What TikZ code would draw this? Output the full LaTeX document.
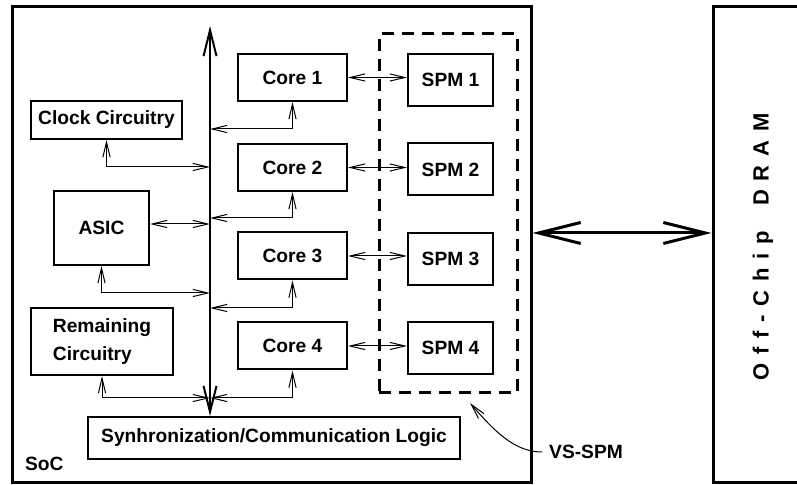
\documentclass[tikz,border=0pt]{standalone}
\usepackage{fontspec}
\setmainfont{Liberation Sans}
\usetikzlibrary{arrows.meta}

\tikzset{
  blk/.style={draw,line width=1pt,inner sep=0pt},
  core/.style={blk,minimum width=54.5pt,minimum height=23.5pt},
  spm/.style={blk,minimum width=42.5pt,minimum height=26pt},
  chip/.style={draw,line width=1.5pt,minimum height=238pt},
  link/.style={line width=0.5pt,{Straight Barb[length=7.5pt,width=3.6pt]}-{Straight Barb[length=7.5pt,width=3.6pt]}},
  bus/.style={line width=1pt,{Straight Barb[length=13pt,width=6.5pt]}-{Straight Barb[length=13pt,width=6.5pt]}},
  memlink/.style={line width=1.5pt,{Straight Barb[length=21pt,width=10.5pt]}-{Straight Barb[length=21pt,width=10.5pt]}}
}

\begin{document}
\begin{tikzpicture}[x=0.5pt,y=-0.5pt,font=\fontsize{9.6}{14}\selectfont\bfseries]
\useasboundingbox (0,0) rectangle (797,485);

\node[chip,minimum width=259.5pt] (soc) at (271.5,245) {};
\node[chip,minimum width=80pt] (dram) at (793,245) {};
\node[anchor=west] (soclbl) at (18,464) {SoC};
\node[rotate=90,font=\fontsize{11}{13}\selectfont\bfseries] (dramlbl) at (763,247) {\addfontfeature{LetterSpace=40}Off-Chip\hspace{5pt} DRAM};

\node[draw,line width=1.5pt,dash pattern=on 6pt off 4pt,minimum width=69pt,minimum height=179.5pt] (vsbox) at (448,213.5) {};

\foreach \i/\y in {1/77.5,2/167.5,3/256,4/346}
  \node[core] (core\i) at (292.5,\y) {Core \i};
\foreach \i/\y in {1/80,2/169.5,3/259,4/348}
  \node[spm] (spm\i) at (450.5,\y) {SPM \i};

\node[blk,minimum width=75.5pt,minimum height=19pt] (clock) at (106.5,120) {Clock Circuitry};
\node[blk,minimum width=47.5pt,minimum height=37pt] (asic) at (101.5,228) {ASIC};
\node[blk,minimum width=71pt,minimum height=33.5pt,align=left] (rest) at (102,341.5) {Remaining\\Circuitry};
\node[blk,minimum width=186pt,minimum height=21pt] (sync) at (274,438) {Synhronization/Communication Logic};

\coordinate (bustop) at (210,26);
\foreach \n/\y in {c1/129,clk/167,c2/218,asic/224,asicb/293,c3/308,low/398}
  \coordinate (bus-\n) at (210,\y);
\draw[bus] (bustop) -- (bustop |- sync.north);

\foreach \i in {1,...,4}
  \draw[link] (core\i.east) -- (core\i.east -| spm\i.west);
\draw[link] (core1.south) |- (bus-c1);
\draw[link] (core2.south) |- (bus-c2);
\draw[link] (core3.south) |- (bus-c3);
\draw[link] (core4.south) |- (bus-low);
\draw[link] (clock.south) |- (bus-clk);
\draw[link] (asic.east |- bus-asic) -- (bus-asic);
\draw[link] (asic.south) |- (bus-asicb);
\draw[link] (rest.south) |- (bus-low);

\draw[memlink] ([yshift=6pt]soc.east) -- ([yshift=6pt]soc.east -| dram.west);

\node (vslbl) at (586,452) {VS-SPM};
\coordinate (vstip) at (470,403);
\draw[line width=0.5pt,-{Straight Barb[length=7.5pt,width=3.6pt]}] (vslbl.west) .. controls (515,452) and (495,432) .. (vstip);
\end{tikzpicture}
\end{document}
